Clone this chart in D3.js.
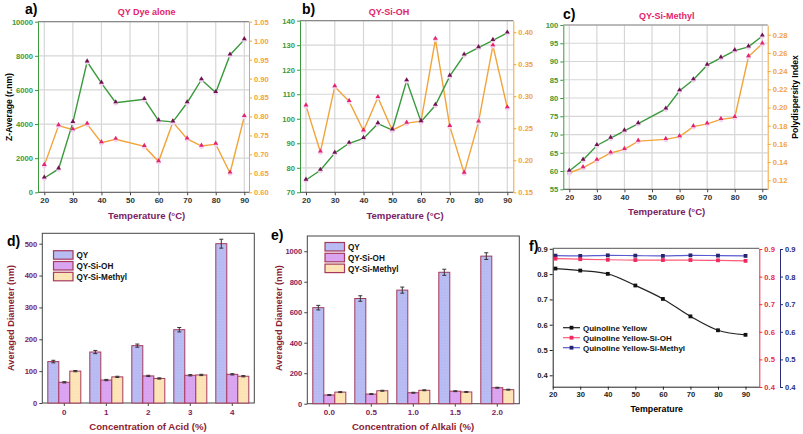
<!DOCTYPE html>
<html><head><meta charset="utf-8">
<script src="https://cdn.jsdelivr.net/npm/d3@7"></script>
<style>
body{margin:0;background:#fff}
svg{display:block}
text{font-family:"Liberation Sans",Arial,sans-serif;font-weight:bold}
</style>
</head><body>
<svg id="c" width="803" height="434"></svg>
<script>
// ---------- DATA ----------
const tempA = [20,25,30,35,40,45,55,60,65,70,75,80,85,90];
const zAvgA = [840,1370,4100,7650,6400,5250,5450,4200,4130,5250,6600,5850,8050,8950];
const pdiA  = [0.671,0.776,0.765,0.780,0.731,0.740,0.721,0.681,0.785,0.741,0.722,0.727,0.651,0.800];

const tempB = [20,25,30,35,40,45,50,55,60,65,70,75,80,85,90];
const zAvgB = [75,79,86,90,92,98,95.4,115.5,98.8,105.5,117.4,126,129,132,135];
const pdiB  = [0.285,0.213,0.315,0.292,0.246,0.298,0.247,0.258,0.261,0.389,0.253,0.180,0.260,0.379,0.282];

const tempC = [20,25,30,35,40,45,55,60,65,70,75,80,85,90];
const zAvgC = [60,63,67,69,71,73,77,82,85,89,91,93,94,97];
const pdiC  = [0.128,0.134,0.142,0.150,0.154,0.163,0.165,0.168,0.179,0.182,0.187,0.189,0.256,0.270];

const tempTicks = [20,30,40,50,60,70,80,90];

const seriesNames = ["QY","QY-Si-OH","QY-Si-Methyl"];
const acidCats = ["0","1","2","3","4"];
const acidQY = [130,160,180,230,500];
const acidQYErr = [4,5,5,7,14];
const acidSiOH = [65,72,85,87,90];
const acidSiOHErr = [2,2,2,2,2];
const acidMethyl = [100,82,77,88,84];
const acidMethylErr = [2,2,2,2,2];

const alkCats = ["0.0","0.5","1.0","1.5","2.0"];
const alkQY = [630,690,745,862,968];
const alkQYErr = [15,18,20,20,22];
const alkSiOH = [57,63,72,82,105];
const alkSiOHErr = [3,3,3,3,3];
const alkMethyl = [76,85,88,77,92];
const alkMethylErr = [3,3,3,3,3];

const tempF = [21,30,40,50,60,70,80,90];
const qyF = [0.822,0.814,0.801,0.755,0.702,0.633,0.578,0.560];
const siohF = [0.865,0.863,0.861,0.860,0.860,0.860,0.859,0.857];
const methylF = [0.876,0.875,0.877,0.876,0.875,0.877,0.876,0.875];
const fLegend = ["Quinoline Yellow","Quinoline Yellow-Si-OH","Quinoline Yellow-Si-Methyl"];

// ---------- STYLE ----------
const GREEN="#3a9a3c", ORANGE="#f2a43a", PINK="#e3246c", MAROON="#7b2262", DRED="#8c1d33";
const svg = d3.select("#c");
const defs = svg.append("defs");
const barFills = [["#b9bdf4","#8d92d6"],["#dba5f2","#b27cd6"],["#fde5b8","#dcc08e"]];
barFills.forEach((c,i)=>{
  const p = defs.append("pattern").attr("id","pat"+i).attr("patternUnits","userSpaceOnUse").attr("width",3).attr("height",3);
  p.append("rect").attr("width",3).attr("height",3).attr("fill",c[0]);
  p.append("circle").attr("cx",1).attr("cy",1).attr("r",0.35).attr("fill",c[1]);
});
const fmtInt = d3.format("d");

function styleAxis(g, color, size){
  g.selectAll("path,line").attr("stroke",color);
  g.selectAll("text").attr("fill",color).attr("font-size",size).attr("font-family","Liberation Sans, Arial, sans-serif").attr("font-weight","bold");
}
function txt(x,y,s,opt={}){
  const t = svg.append("text").attr("x",x).attr("y",y).text(s)
    .attr("font-size",opt.size||9).attr("fill",opt.color||"#000")
    .attr("text-anchor",opt.anchor||"middle");
  if(opt.rot) t.attr("transform",`rotate(${opt.rot},${x},${y})`);
  if(opt.family) t.attr("font-family",opt.family);
  if(opt.baseline) t.attr("dominant-baseline",opt.baseline);
  return t;
}

// ---------- TOP LINE PANELS ----------
function linePanel(o){
  const g = svg.append("g");
  const x = d3.scaleLinear().domain([20,90]).range(o.xr);
  const yl = d3.scaleLinear().domain(o.lDom).range([o.bottom,o.top]);
  const yr = d3.scaleLinear().domain(o.rDom).range([o.bottom,o.top]);
  g.append("g").selectAll("line").data(tempTicks).join("line")
    .attr("x1",d=>x(d)).attr("x2",d=>x(d)).attr("y1",o.top).attr("y2",o.bottom)
    .attr("stroke","#d6d6d6").attr("stroke-width",1.2);
  g.append("g").selectAll("line").data(o.lTicks).join("line")
    .attr("x1",o.left).attr("x2",o.right).attr("y1",d=>yl(d)).attr("y2",d=>yl(d))
    .attr("stroke","#d6d6d6").attr("stroke-width",1.2);
  g.append("line").attr("x1",o.left).attr("x2",o.right).attr("y1",o.top).attr("y2",o.top).attr("stroke","#8a8a8a").attr("stroke-width",1.2);
  g.append("line").attr("x1",o.left).attr("x2",o.right).attr("y1",o.bottom).attr("y2",o.bottom).attr("stroke","#555");
  const bx = g.append("g").attr("transform",`translate(0,${o.bottom})`)
    .call(d3.axisBottom(x).tickValues(tempTicks).tickSize(3).tickPadding(2));
  bx.select(".domain").remove();
  styleAxis(bx,"#444",8);
  bx.selectAll("text").attr("fill","#333");
  const la = g.append("g").attr("transform",`translate(${o.left},0)`)
    .call(d3.axisLeft(yl).tickValues(o.lTicks).tickSize(3).tickSizeOuter(0).tickPadding(2).tickFormat(fmtInt));
  styleAxis(la,GREEN,7.6);
  const ra = g.append("g").attr("transform",`translate(${o.right},0)`)
    .call(d3.axisRight(yr).tickValues(o.rTicks).tickSize(3).tickSizeOuter(0).tickPadding(2).tickFormat(d3.format(".2f")));
  styleAxis(ra,ORANGE,7.6);

  const line = (ys,sc)=> d3.line().x((d,i)=>x(o.t[i])).y(d=>sc(d))(ys);
  g.append("path").attr("d",line(o.pdi,yr)).attr("fill","none").attr("stroke",ORANGE).attr("stroke-width",1.4);
  g.append("path").attr("d",line(o.z,yl)).attr("fill","none").attr("stroke",GREEN).attr("stroke-width",1.4);
  const mark = (ys,sc,col)=>{
    const m = g.append("g").selectAll("g").data(ys).join("g")
      .attr("transform",(d,i)=>`translate(${x(o.t[i])},${sc(d)})`);
    m.append("circle").attr("r",2.4).attr("cy",0.6).attr("fill","#f1d4f0");
    m.append("path").attr("d",d3.symbol(d3.symbolTriangle,10)).attr("transform","translate(0,-0.8)").attr("fill",col);
  };
  mark(o.pdi,yr,PINK);
  mark(o.z,yl,"#6e1350");
}

linePanel({xr:[44.3,244.3],left:38,right:249,top:21.7,bottom:192.3,
  lDom:[0,10000],lTicks:[0,2000,4000,6000,8000,10000],
  rDom:[0.60,1.05],rTicks:d3.range(0.60,1.051,0.05),
  t:tempA,z:zAvgA,pdi:pdiA});
linePanel({xr:[306,507.3],left:300,right:513.3,top:20.7,bottom:192.3,
  lDom:[70,140],lTicks:[70,80,90,100,110,120,130,140],
  rDom:[0.15,0.418],rTicks:d3.range(0.15,0.401,0.05),
  t:tempB,z:zAvgB,pdi:pdiB});
linePanel({xr:[569.3,762.3],left:563.3,right:767.7,top:25,bottom:189.3,
  lDom:[55,100],lTicks:d3.range(55,101,5),
  rDom:[0.1101,0.2907],rTicks:d3.range(0.12,0.281,0.02),
  t:tempC,z:zAvgC,pdi:pdiC});

txt(25,14,"a)",{anchor:"start",size:14,family:"Liberation Serif, serif"});
txt(146.7,15,"QY Dye alone",{color:PINK,size:9});
txt(10,107,"Z-Average (r.nm)",{rot:-90,size:8.6,baseline:"middle"});
txt(146.7,219,"Temperature (°C)",{color:MAROON,size:9.6});

txt(302,14,"b)",{anchor:"start",size:14,family:"Liberation Serif, serif"});
txt(389,14.5,"QY-Si-OH",{color:PINK,size:9});
txt(405,219,"Temperature (°C)",{color:MAROON,size:9.6});

txt(563,19,"c)",{anchor:"start",size:14,family:"Liberation Serif, serif"});
txt(666.7,19,"QY-Si-Methyl",{color:PINK,size:9});
txt(666.7,214.5,"Temperature (°C)",{color:MAROON,size:9.6});
txt(796,97,"Polydispersity Index",{rot:-90,size:8.6,baseline:"middle"});

// ---------- BAR PANELS ----------
function barPanel(o){
  const g = svg.append("g");
  const x = d3.scaleBand().domain(o.cats).range([o.left,o.right]).paddingInner(0.214).paddingOuter(0.131);
  const xs = d3.scaleBand().domain([0,1,2]).range([0,x.bandwidth()]);
  const y = d3.scaleLinear().domain(o.yDom).range([o.bottom,o.top]);
  g.append("rect").attr("x",o.left).attr("y",o.top).attr("width",o.right-o.left).attr("height",o.bottom-o.top)
    .attr("fill","none").attr("stroke","#444").attr("stroke-width",1);
  const la = g.append("g").attr("transform",`translate(${o.left},0)`)
    .call(d3.axisLeft(y).tickValues(o.yTicks).tickSize(3).tickSizeOuter(0).tickPadding(2).tickFormat(fmtInt));
  la.select(".domain").remove();
  styleAxis(la,MAROON,7.6);
  la.selectAll("line").attr("stroke","#444");
  const bx = g.append("g").attr("transform",`translate(0,${o.bottom})`)
    .call(d3.axisBottom(x).tickSize(3).tickSizeOuter(0).tickPadding(3));
  bx.select(".domain").remove();
  styleAxis(bx,MAROON,8);
  bx.selectAll("line").attr("stroke","#444");
  o.series.forEach((s,si)=>{
    const gg = g.append("g");
    gg.selectAll("rect").data(s.v).join("rect")
      .attr("x",(d,i)=>x(o.cats[i])+xs(si)).attr("width",xs.bandwidth())
      .attr("y",d=>y(d)).attr("height",d=>y(0)-y(d))
      .attr("fill",`url(#pat${si})`).attr("stroke","#a63a5c").attr("stroke-width",1);
    const eb = gg.append("g").selectAll("g").data(s.v).join("g")
      .attr("transform",(d,i)=>`translate(${x(o.cats[i])+xs(si)+xs.bandwidth()/2},0)`);
    eb.append("line").attr("y1",(d,i)=>y(d+s.e[i])).attr("y2",(d,i)=>y(d-s.e[i])).attr("stroke","#333");
    eb.append("line").attr("x1",-2).attr("x2",2).attr("y1",(d,i)=>y(d+s.e[i])).attr("y2",(d,i)=>y(d+s.e[i])).attr("stroke","#333");
    eb.append("line").attr("x1",-2).attr("x2",2).attr("y1",(d,i)=>y(d-s.e[i])).attr("y2",(d,i)=>y(d-s.e[i])).attr("stroke","#333");
  });
  const lg = g.append("g").selectAll("g").data(seriesNames).join("g")
    .attr("transform",(d,i)=>`translate(${o.lx},${o.ly+i*10.8})`);
  lg.append("rect").attr("width",19.5).attr("height",8.5).attr("fill",(d,i)=>`url(#pat${i})`).attr("stroke","#a63a5c").attr("stroke-width",1.2);
  lg.append("text").attr("x",23).attr("y",7.5).text(d=>d).attr("font-size",8.2).attr("fill","#111");
}

barPanel({cats:acidCats,left:42.3,right:254.3,top:233.3,bottom:403,yDom:[0,532.6],yTicks:[0,100,200,300,400,500],
  series:[{v:acidQY,e:acidQYErr},{v:acidSiOH,e:acidSiOHErr},{v:acidMethyl,e:acidMethylErr}],lx:53.5,ly:250.7});
barPanel({cats:alkCats,left:307.3,right:519.3,top:236,bottom:403.7,yDom:[0,1100],yTicks:[0,200,400,600,800,1000],
  series:[{v:alkQY,e:alkQYErr},{v:alkSiOH,e:alkSiOHErr},{v:alkMethyl,e:alkMethylErr}],lx:325,ly:242.5});

txt(7,246,"d)",{anchor:"start",size:14,family:"Liberation Serif, serif"});
txt(12,318,"Averaged Diameter (nm)",{rot:-90,size:9.2,color:DRED,baseline:"middle"});
txt(148,430,"Concentration of Acid (%)",{size:9.6,color:DRED});
txt(271,240,"e)",{anchor:"start",size:14,family:"Liberation Serif, serif"});
txt(280,318,"Averaged Diameter (nm)",{rot:-90,size:9.2,color:DRED,baseline:"middle"});
txt(413,430,"Concentration of Alkali (%)",{size:9.6,color:DRED});

// ---------- PANEL F ----------
(function(){
  const left=552.7,right=759.3,top=248.3,bottom=386.7,blueX=780;
  const g = svg.append("g");
  const x = d3.scaleLinear().domain([20,95]).range([left,right]);
  const yl = d3.scaleLinear().domain([0.355,0.902]).range([bottom,top]);
  const yr = d3.scaleLinear().domain([0.4,0.9]).range([387,249]);
  g.append("line").attr("x1",left).attr("x2",right).attr("y1",top).attr("y2",top).attr("stroke","#555");
  const bx = g.append("g").attr("transform",`translate(0,${bottom})`)
    .call(d3.axisBottom(x).tickValues(tempTicks).tickSize(3).tickSizeOuter(0).tickPadding(2));
  styleAxis(bx,"#222",7.6);
  const la = g.append("g").attr("transform",`translate(${left},0)`)
    .call(d3.axisLeft(yl).tickValues([0.4,0.5,0.6,0.7,0.8,0.9]).tickSize(3).tickSizeOuter(0).tickPadding(2).tickFormat(d3.format(".1f")));
  styleAxis(la,"#222",7.6);
  const ra = g.append("g").attr("transform",`translate(${right},0)`)
    .call(d3.axisRight(yr).tickValues([0.4,0.5,0.6,0.7,0.8,0.9]).tickSize(3).tickSizeOuter(0).tickPadding(2).tickFormat(d3.format(".1f")));
  styleAxis(ra,"#ee2848",7.6);
  const ba = g.append("g").attr("transform",`translate(${blueX},0)`)
    .call(d3.axisRight(yr).tickValues([0.4,0.5,0.6,0.7,0.8,0.9]).tickSize(3).tickSizeOuter(0).tickPadding(2).tickFormat(d3.format(".1f")));
  styleAxis(ba,"#2c2c7c",7.6);
  const defsS = [
    {v:methylF,sc:yr,line:"#5a5ad0",mk:"#25256e"},
    {v:siohF,sc:yr,line:"#ff5a78",mk:"#ee2860"},
    {v:qyF,sc:yl,line:"#222",mk:"#111"}
  ];
  defsS.forEach(s=>{
    g.append("path").attr("d",d3.line().curve(d3.curveMonotoneX).x((d,i)=>x(tempF[i])).y(d=>s.sc(d))(s.v))
      .attr("fill","none").attr("stroke",s.line).attr("stroke-width",1.2);
    g.append("g").selectAll("rect").data(s.v).join("rect")
      .attr("x",(d,i)=>x(tempF[i])-1.9).attr("y",d=>s.sc(d)-1.9).attr("width",3.8).attr("height",3.8).attr("fill",s.mk);
  });
  const lc = [["#222","#111"],["#ff5a78","#ee2860"],["#5a5ad0","#25256e"]];
  const lg = g.append("g").selectAll("g").data(fLegend).join("g")
    .attr("transform",(d,i)=>`translate(563,${327.7+i*10})`);
  lg.append("line").attr("x1",0).attr("x2",17).attr("stroke",(d,i)=>lc[i][0]).attr("stroke-width",1.2);
  lg.append("rect").attr("x",6.6).attr("y",-1.9).attr("width",3.8).attr("height",3.8).attr("fill",(d,i)=>lc[i][1]);
  lg.append("text").attr("x",20).attr("y",3).text(d=>d).attr("font-size",8).attr("fill","#111");
})();
txt(529,251,"f)",{anchor:"start",size:14,family:"Liberation Serif, serif"});
txt(656.7,411.5,"Temperature",{size:8.8});
</script>
</body></html>
